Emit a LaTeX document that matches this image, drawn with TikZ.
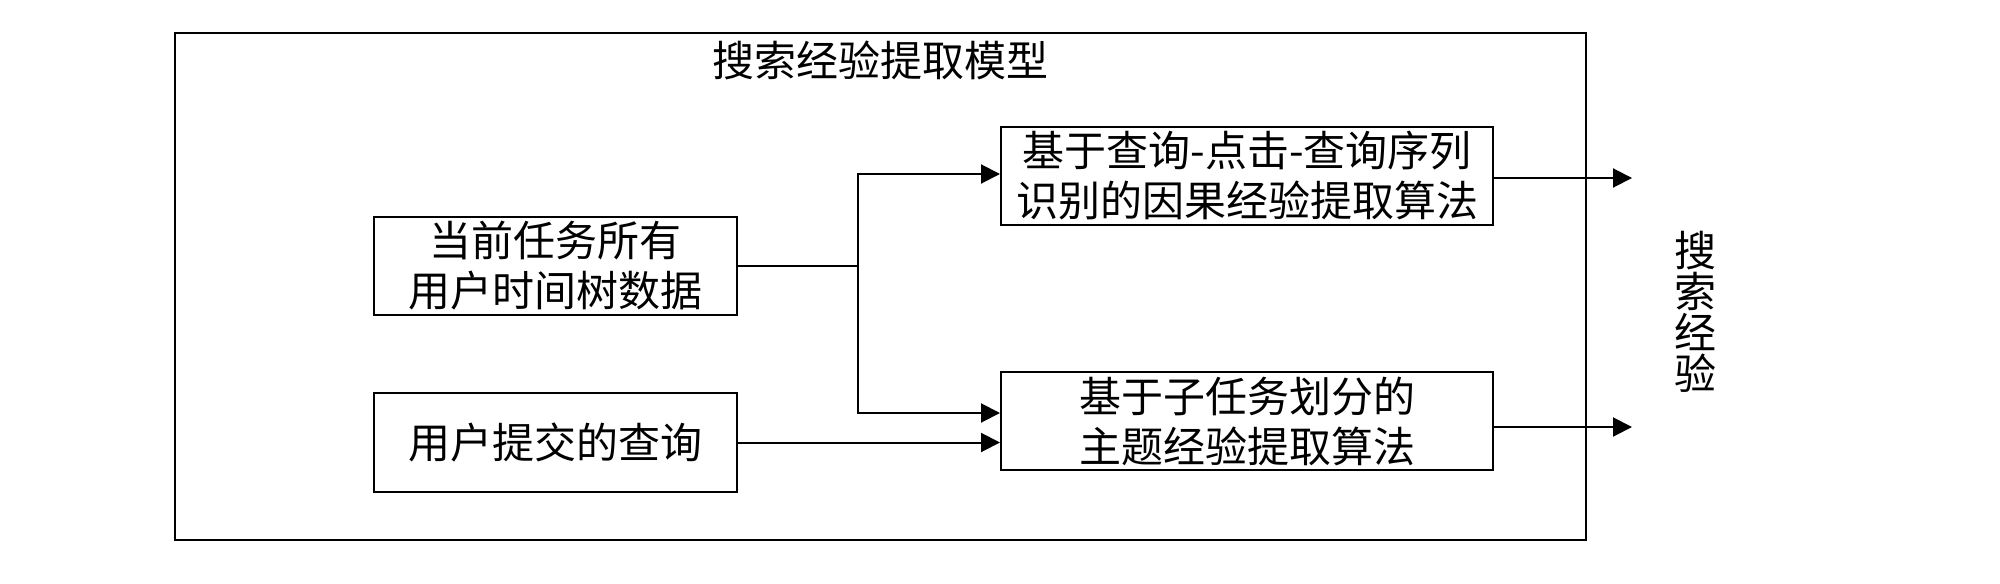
\documentclass[tikz,border=0pt]{standalone}
\usepackage{fontspec}
\setmainfont{Noto Sans CJK SC}
\usetikzlibrary{arrows.meta}
\usetikzlibrary{calc}

\begin{document}
\begin{tikzpicture}[x=0.5pt,y=-0.5pt,line width=1pt,
	box/.style={draw, inner sep=0pt, align=center, font=\fontsize{21}{25}\selectfont},
	arr/.style={-{Triangle[length=9.5pt,width=9.5pt]}}]

		\useasboundingbox (0,0) rectangle (2000,583);

		\coordinate (split) at (858,266) ;
		\coordinate (out1) at (1632,178) ;
		\coordinate (out2) at (1632,427) ;

		\node [draw, minimum width=705.5pt, minimum height=253.5pt] (model) at (880.5,286.5) {};
		\node [font=\fontsize{21}{25}\selectfont] (title) at (880.5,60) {搜索经验提取模型};

		\node [box, minimum width=181.5pt, minimum height=49pt] (data) at (555.5,266) {当前任务所有\\用户时间树数据};
		\node [box, minimum width=181.5pt, minimum height=49.5pt] (query) at (555.5,442.5) {用户提交的查询};
		\node [box, minimum width=246pt, minimum height=49pt] (causal) at (1247,176) {基于查询-点击-查询序列\\识别的因果经验提取算法};
		\node [box, minimum width=246pt, minimum height=49pt] (topic) at (1247,421) {基于子任务划分的\\主题经验提取算法};

		\node [align=center, font=\fontsize{21}{20.5}\selectfont] (exp) at (1695,312) {搜\\索\\经\\验};

		\draw (data.east) -- (split);
		\draw [arr] (split) |- ($(causal.west)+(0,-2)$);
		\draw [arr] (split) |- ($(topic.west)+(0,-8)$);
		\draw [arr] (query.east) -- (query.east -| topic.west);

		\draw [arr] ($(causal.east)+(0,2)$) -- (out1);
		\draw [arr] ($(topic.east)+(0,6)$) -- (out2);

\end{tikzpicture}
\end{document}
